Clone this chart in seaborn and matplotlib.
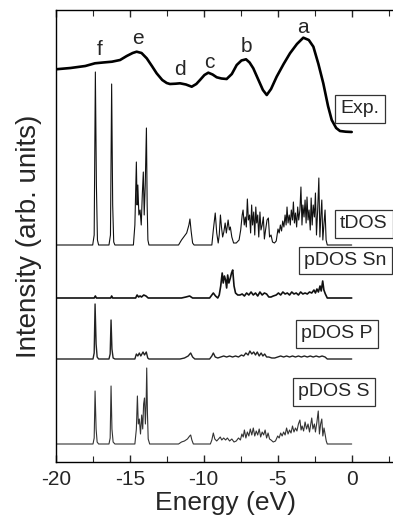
import matplotlib
matplotlib.use("Agg")
import matplotlib.pyplot as plt
import seaborn as sns
import numpy as np
import pandas as pd
from matplotlib.ticker import MultipleLocator

# ---------------- data ----------------
exp_energy = [-20, -19, -18, -17.35, -16.8, -16.2, -15.65, -15.2, -14.8, -14.53, -14.2, -13.85,
              -13.5, -13.18, -12.8, -12.5, -12.28, -11.9, -11.6, -11.2, -10.81, -10.5, -10.25,
              -9.95, -9.69, -9.4, -9.12, -8.8, -8.45, -8.1, -7.77, -7.45, -7.14, -6.9, -6.65,
              -6.3, -6.0, -5.74, -5.45, -5.07, -4.6, -4.17, -3.7, -3.27, -2.9, -2.59, -2.25,
              -1.92, -1.6, -1.35, -1.05, -0.79, -0.4, 0]
exp_intensity = [62.7, 64, 66, 68.7, 69.5, 70.3, 72, 76, 79, 80.3, 79, 73.7,
                 66, 58.7, 52, 49, 48, 48.3, 48.7, 47.5, 45.3, 48, 52,
                 57, 59.3, 57.5, 54.7, 53.5, 53, 58, 67, 71.5, 72.7, 69.5, 63.7,
                 52, 42, 37, 43, 55.3, 68, 78.7, 88, 94.3, 92, 85.3, 68,
                 48.7, 26, 12, 4, 1, 0.3, 0]

tdos = [(-20, 0), (-17.5, 0), (-17.4, 10), (-17.32, 173), (-17.25, 60), (-17.18, 5), (-17.1, 0),
        (-16.4, 0), (-16.3, 10), (-16.22, 161), (-16.15, 40), (-16.08, 3), (-16.0, 0),
        (-14.75, 0), (-14.65, 20), (-14.55, 83), (-14.5, 40), (-14.45, 60), (-14.38, 30),
        (-14.3, 35), (-14.22, 20), (-14.15, 50), (-14.08, 73), (-14.02, 30), (-13.95, 60),
        (-13.87, 117), (-13.82, 40), (-13.77, 5), (-13.7, 0),
        (-11.7, 0), (-11.5, 5), (-11.3, 9), (-11.15, 12), (-11.0, 20), (-10.93, 26),
        (-10.85, 14), (-10.75, 2), (-10.65, 0),
        (-9.45, 0), (-9.35, 15), (-9.22, 32), (-9.12, 12), (-9.02, 2), (-8.95, 10), (-8.87, 30),
        (-8.8, 18), (-8.72, 8), (-8.64, 13), (-8.55, 22), (-8.47, 12), (-8.35, 25), (-8.27, 15),
        (-8.2, 18), (-8.1, 8), (-7.98, 2), (-7.8, 2), (-7.61, 5), (-7.5, 15), (-7.4, 30),
        (-7.34, 35), (-7.26, 20), (-7.19, 28), (-7.12, 18), (-7.05, 46), (-6.98, 25), (-6.9, 30),
        (-6.83, 12), (-6.76, 40), (-6.7, 20), (-6.62, 33), (-6.55, 10), (-6.48, 38), (-6.42, 22),
        (-6.35, 30), (-6.28, 8), (-6.2, 33), (-6.13, 15), (-6.05, 20), (-5.97, 28), (-5.9, 6),
        (-5.82, 15), (-5.72, 25), (-5.63, 27), (-5.55, 8), (-5.45, 10), (-5.35, 3), (-5.22, 2),
        (-5.1, 4), (-4.98, 16), (-4.9, 12), (-4.82, 20), (-4.74, 14), (-4.66, 24), (-4.58, 18),
        (-4.5, 30), (-4.43, 20), (-4.37, 38), (-4.3, 22), (-4.22, 30), (-4.15, 20), (-4.08, 35),
        (-4.0, 25), (-3.94, 43), (-3.87, 22), (-3.8, 32), (-3.72, 18), (-3.65, 38), (-3.58, 25),
        (-3.5, 35), (-3.43, 58), (-3.36, 20), (-3.3, 40), (-3.22, 28), (-3.15, 45), (-3.08, 22),
        (-3.02, 48), (-2.95, 25), (-2.88, 35), (-2.8, 15), (-2.74, 47), (-2.67, 20), (-2.6, 40),
        (-2.52, 28), (-2.45, 52), (-2.38, 10), (-2.3, 35), (-2.22, 67), (-2.15, 8), (-2.08, 30),
        (-2.02, 45), (-1.95, 5), (-1.88, 20), (-1.8, 35), (-1.73, 5), (-1.65, 0), (0, 0)]

pdos_sn = [(-20, 0), (-17.4, 0), (-17.32, 2), (-17.25, 0), (-16.28, 0), (-16.22, 2), (-16.15, 0),
           (-14.6, 0), (-14.5, 3), (-14.4, 1), (-14.3, 2), (-14.2, 1), (-14.05, 3), (-13.9, 2),
           (-13.75, 0), (-11.5, 0), (-11.2, 1), (-10.95, 2), (-10.75, 0), (-9.6, 0), (-9.45, 3),
           (-9.35, 5), (-9.2, 2), (-9.05, 0), (-8.95, 3), (-8.85, 12), (-8.75, 25), (-8.68, 15),
           (-8.6, 22), (-8.52, 18), (-8.45, 10), (-8.38, 23), (-8.3, 15), (-8.2, 20), (-8.12, 25),
           (-8.04, 28), (-7.95, 12), (-7.85, 5), (-7.7, 3), (-7.55, 3), (-7.4, 4), (-7.25, 2),
           (-7.1, 5), (-6.95, 3), (-6.8, 6), (-6.65, 3), (-6.5, 5), (-6.35, 2), (-6.2, 6),
           (-6.05, 3), (-5.9, 5), (-5.75, 4), (-5.6, 1), (-5.45, 1), (-5.3, 2), (-5.1, 3),
           (-4.95, 5), (-4.8, 3), (-4.65, 6), (-4.5, 4), (-4.35, 5), (-4.2, 3), (-4.05, 6),
           (-3.9, 4), (-3.75, 5), (-3.6, 3), (-3.45, 6), (-3.3, 4), (-3.15, 5), (-3.0, 4),
           (-2.85, 6), (-2.7, 5), (-2.55, 8), (-2.45, 5), (-2.35, 9), (-2.25, 6), (-2.14, 12),
           (-2.06, 7), (-1.96, 17), (-1.88, 8), (-1.78, 4), (-1.65, 0), (0, 0)]

pdos_p = [(-20, 0), (-17.48, 0), (-17.4, 6), (-17.34, 55), (-17.27, 15), (-17.2, 2), (-17.1, 0),
          (-16.4, 0), (-16.32, 5), (-16.26, 39), (-16.2, 10), (-16.12, 1), (-16.0, 0),
          (-14.65, 0), (-14.55, 5), (-14.45, 3), (-14.35, 6), (-14.25, 3), (-14.1, 7), (-14.0, 4),
          (-13.88, 7), (-13.78, 1), (-13.7, 0), (-11.6, 0), (-11.3, 1), (-11.05, 3), (-10.88, 6),
          (-10.75, 2), (-10.6, 0), (-9.6, 0), (-9.45, 3), (-9.35, 6), (-9.22, 2), (-9.05, 1),
          (-8.85, 2), (-8.65, 3), (-8.45, 2), (-8.25, 3), (-8.05, 2), (-7.85, 3), (-7.65, 2),
          (-7.45, 4), (-7.3, 3), (-7.15, 6), (-7.0, 4), (-6.88, 8), (-6.75, 5), (-6.62, 7),
          (-6.5, 4), (-6.38, 7), (-6.25, 3), (-6.12, 6), (-6.0, 3), (-5.88, 5), (-5.75, 2),
          (-5.6, 2), (-5.4, 1), (-5.2, 1), (-5.0, 2), (-4.8, 3), (-4.6, 2), (-4.4, 3), (-4.2, 2),
          (-4.0, 3), (-3.8, 2), (-3.6, 3), (-3.4, 2), (-3.2, 3), (-3.0, 2), (-2.8, 3), (-2.6, 2),
          (-2.4, 3), (-2.2, 2), (-2.0, 3), (-1.8, 2), (-1.65, 0), (0, 0)]

pdos_s = [(-20, 0), (-17.48, 0), (-17.4, 6), (-17.34, 53), (-17.27, 15), (-17.2, 2), (-17.1, 0),
          (-16.4, 0), (-16.32, 6), (-16.26, 58), (-16.2, 15), (-16.12, 2), (-16.0, 0),
          (-14.65, 0), (-14.55, 15), (-14.48, 48), (-14.42, 20), (-14.35, 25), (-14.27, 10),
          (-14.19, 29), (-14.12, 15), (-14.06, 40), (-14.0, 46), (-13.94, 20), (-13.89, 40),
          (-13.85, 76), (-13.8, 30), (-13.75, 5), (-13.65, 0), (-11.7, 0), (-11.5, 2), (-11.3, 3),
          (-11.1, 5), (-10.95, 8), (-10.88, 9), (-10.8, 4), (-10.7, 0), (-9.55, 0), (-9.45, 4),
          (-9.35, 11), (-9.25, 5), (-9.12, 3), (-9.0, 5), (-8.88, 7), (-8.78, 4), (-8.65, 6),
          (-8.52, 4), (-8.4, 6), (-8.25, 3), (-8.1, 5), (-7.95, 2), (-7.8, 3), (-7.65, 6),
          (-7.52, 4), (-7.42, 10), (-7.33, 7), (-7.25, 14), (-7.15, 6), (-7.05, 12), (-6.95, 8),
          (-6.85, 15), (-6.75, 9), (-6.65, 16), (-6.55, 8), (-6.45, 13), (-6.35, 9), (-6.25, 15),
          (-6.15, 7), (-6.05, 12), (-5.95, 9), (-5.85, 14), (-5.75, 6), (-5.65, 11), (-5.55, 5),
          (-5.45, 4), (-5.3, 2), (-5.15, 3), (-5.0, 8), (-4.9, 6), (-4.8, 11), (-4.7, 8),
          (-4.6, 12), (-4.5, 9), (-4.4, 16), (-4.3, 10), (-4.2, 14), (-4.1, 11), (-4.0, 18),
          (-3.9, 12), (-3.8, 16), (-3.7, 13), (-3.6, 20), (-3.5, 24), (-3.42, 14), (-3.35, 18),
          (-3.25, 13), (-3.15, 22), (-3.05, 15), (-2.95, 20), (-2.85, 12), (-2.7, 26), (-2.62, 15),
          (-2.52, 20), (-2.45, 12), (-2.35, 22), (-2.26, 33), (-2.18, 10), (-2.1, 20), (-2.02, 25),
          (-1.95, 8), (-1.87, 16), (-1.8, 10), (-1.72, 3), (-1.65, 0), (0, 0)]

peak_letters = ["a", "b", "c", "d", "e", "f"]
peak_energy = [-3.29, -7.09, -9.64, -11.6, -14.46, -17.0]

x_ticks = [-20, -15, -10, -5, 0]

# ---------------- style ----------------
sns.set_style("ticks")
plt.rcParams["font.family"] = ["Liberation Sans", "DejaVu Sans"]
plt.rcParams["axes.linewidth"] = 1.0

fig = plt.figure(figsize=(3.93, 5.2), dpi=100)
ax = fig.add_axes([55.7 / 393, 58 / 520, 340.4 / 393, 452 / 520])

# vertical offsets (layout)
offsets = {"Exp.": 330, "tDOS": 217, "pDOS Sn": 164, "pDOS P": 103, "pDOS S": 18}

sns.lineplot(x=exp_energy, y=np.array(exp_intensity) + offsets["Exp."], ax=ax,
             color="black", lw=1.9, estimator=None, sort=False)

curves = [("tDOS", tdos, 0.8, "#111111"),
          ("pDOS Sn", pdos_sn, 1.2, "#111111"),
          ("pDOS P", pdos_p, 1.0, "#222222"),
          ("pDOS S", pdos_s, 0.8, "#333333")]
for name, pts, lw, col in curves:
    df = pd.DataFrame(pts, columns=["E", "I"])
    sns.lineplot(x=df["E"], y=df["I"] + offsets[name], ax=ax, color=col, lw=lw,
                 estimator=None, sort=False)

# peak letters
letter_base = {"a": 428.7, "b": 410.3, "c": 393.7, "d": 387, "e": 418, "f": 407}
for lt, e in zip(peak_letters, peak_energy):
    ax.text(e, letter_base[lt], lt, ha="center", va="baseline", fontsize=15)

# boxed labels
label_pos = {"Exp.": (0.56, 353), "tDOS": (0.83, 238), "pDOS Sn": (-0.42, 201.5),
             "pDOS P": (-0.99, 128), "pDOS S": (-1.2, 70)}
for name, (xe, yy) in label_pos.items():
    ax.text(xe, yy, name, ha="center", va="center", fontsize=14,
            bbox=dict(boxstyle="square,pad=0.28", fc="white", ec="#333333", lw=0.9))

ax.set_xlim(-20, 3)
ax.set_ylim(0, 452)
ax.set_yticks([])
ax.set_xticks(x_ticks)
ax.set_xticklabels([str(t) for t in x_ticks])
ax.xaxis.set_minor_locator(MultipleLocator(2.5))
ax.tick_params(axis="x", which="both", direction="in", top=True, bottom=True,
               labelsize=15, pad=6)
ax.tick_params(axis="x", which="major", length=5, width=1)
ax.tick_params(axis="x", which="minor", length=4, width=0.8)
for s in ["left", "bottom", "top"]:
    ax.spines[s].set_visible(True)
    ax.spines[s].set_color("black")
ax.spines["right"].set_visible(False)

ax.set_xlabel("Energy (eV)", fontsize=19, labelpad=1)
ax.set_ylabel("Intensity (arb. units)", fontsize=20, labelpad=10)

fig.savefig("out.png", dpi=100)
